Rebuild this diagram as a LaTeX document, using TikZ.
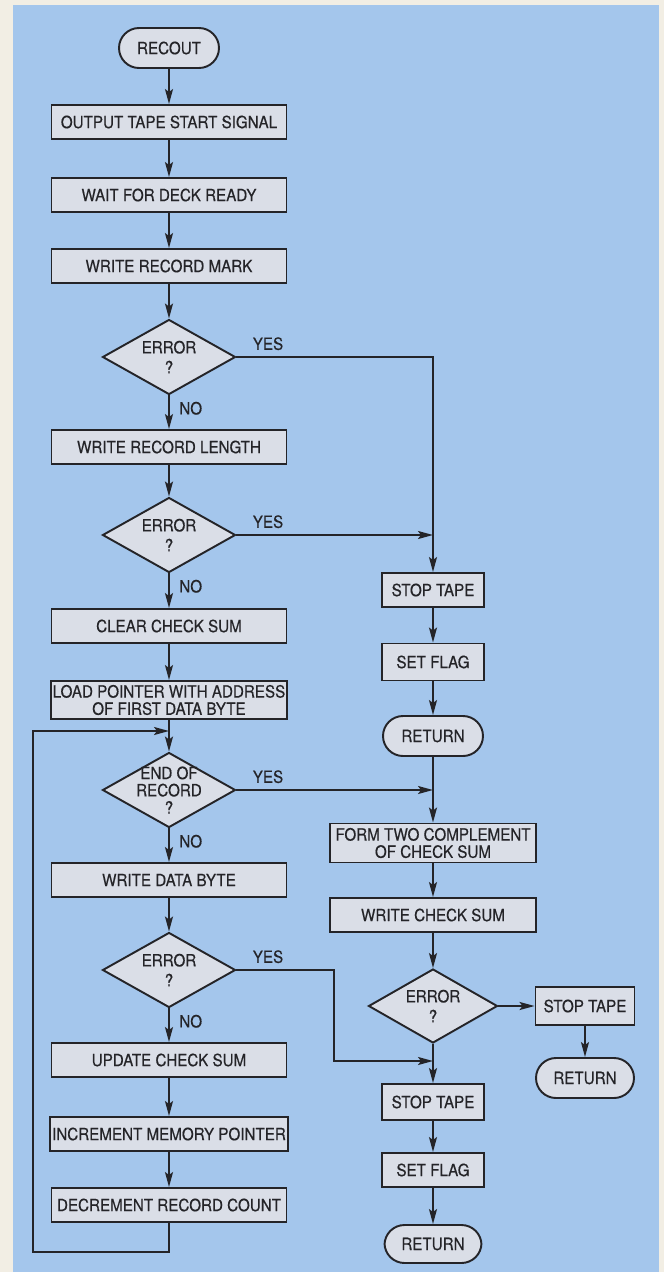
\documentclass[tikz,border=0pt]{standalone}
\usepackage{fontspec}
\setmainfont{TeX Gyre Heros}[FakeStretch=0.9, FakeBold=0.4]
\usetikzlibrary{shapes.geometric,arrows.meta}
\definecolor{paper}{RGB}{242,238,228}
\definecolor{sky}{RGB}{164,198,236}
\definecolor{boxfill}{RGB}{218,222,231}
\definecolor{ink}{RGB}{36,36,40}
\begin{document}
\begin{tikzpicture}[x=0.02cm, y=-0.02cm, >={Stealth[length=3mm,width=1.6mm,inset=0.6mm]},
	every node/.style={font=\fontsize{9.6}{9.8}\selectfont, text=ink},
	proc/.style={draw=ink, line width=1.1pt, fill=boxfill, minimum width=4.7cm, minimum height=0.68cm, inner sep=1pt, align=center},
	smallproc/.style={proc, minimum width=2.04cm},
	term/.style={proc, minimum width=2cm, minimum height=0.8cm, rounded corners=0.4cm},
	test/.style={diamond, draw=ink, line width=1.1pt, fill=boxfill, aspect=1.77, minimum width=2.66cm, minimum height=1.5cm, inner sep=-4pt, align=center},
	lbl/.style={inner sep=0pt},
	flow/.style={draw=ink, line width=1.1pt, ->}]
			% nen giay va khung xanh
			\fill[paper] (0,0) rectangle (664,1272);
			\fill[sky] (13,5) rectangle (659,1272);
			\useasboundingbox (0,0) rectangle (664,1272);
			% cot trai
			\node[term] (recout) at (169,48) {RECOUT};
			\node[proc] (start) at (169,122) {OUTPUT TAPE START SIGNAL};
			\node[proc] (wait) at (169,195) {WAIT FOR DECK READY};
			\node[proc] (mark) at (169,266) {WRITE RECORD MARK};
			\node[test] (err1) at (169,357) {ERROR\\[1.5pt]?};
			\node[proc] (len) at (169,447) {WRITE RECORD LENGTH};
			\node[test] (err2) at (169,535) {ERROR\\[1.5pt]?};
			\node[proc] (clear) at (169,626) {CLEAR CHECK SUM};
			\node[proc, minimum height=0.76cm] (load) at (169,700) {LOAD POINTER WITH ADDRESS\\OF FIRST DATA BYTE};
			\node[test] (eor) at (169,790) {END OF\\RECORD\\?};
			\node[proc] (data) at (169,880) {WRITE DATA BYTE};
			\node[test] (err3) at (169,970) {ERROR\\[1.5pt]?};
			\node[proc] (upd) at (169,1060) {UPDATE CHECK SUM};
			\node[proc] (inc) at (169,1134) {INCREMENT MEMORY POINTER};
			\node[proc] (dec) at (169,1205) {DECREMENT RECORD COUNT};
			% cot phai
			\node[smallproc] (stop1) at (433,590) {STOP TAPE};
			\node[smallproc, minimum height=0.74cm] (flag1) at (433,662) {SET FLAG};
			\node[term] (ret1) at (433,736) {RETURN};
			\node[proc, minimum width=4.12cm, minimum height=0.78cm] (form) at (433,843) {FORM TWO COMPLEMENT\\OF CHECK SUM};
			\node[proc, minimum width=4.12cm] (wsum) at (433,915) {WRITE CHECK SUM};
			\node[test, minimum width=2.58cm, minimum height=1.48cm] (err4) at (433,1006) {ERROR\\[1.5pt]?};
			\node[smallproc, minimum width=1.98cm, minimum height=0.76cm] (stop2) at (585,1006) {STOP TAPE};
			\node[term, minimum width=1.96cm] (ret2) at (585,1078) {RETURN};
			\node[smallproc, minimum height=0.72cm] (stop3) at (433,1102) {STOP TAPE};
			\node[smallproc] (flag3) at (433,1170) {SET FLAG};
			\node[term, minimum width=1.94cm, minimum height=0.76cm] (ret3) at (433,1244) {RETURN};
			% nhan YES / NO
			\foreach \d in {1,2,3} {
				\node[lbl, anchor=south west] (yes\d) at ([xshift=0.32cm, yshift=0.13cm]err\d.east) {YES};
				\node[lbl, anchor=north west] (no\d) at ([xshift=0.2cm, yshift=-0.12cm]err\d.south) {NO};
			}
			\node[lbl, anchor=south west] (yeseor) at ([xshift=0.32cm, yshift=0.13cm]eor.east) {YES};
			\node[lbl, anchor=north west] (noeor) at ([xshift=0.2cm, yshift=-0.12cm]eor.south) {NO};
			% mui ten thang
			\foreach \a/\b in {recout/start, start/wait, wait/mark, mark/err1, err1/len, len/err2, err2/clear, clear/load, load/eor, eor/data, data/err3, err3/upd, upd/inc, inc/dec, stop1/flag1, flag1/ret1, ret1/form, form/wsum, wsum/err4, err4/stop2, stop2/ret2, err4/stop3, stop3/flag3, flag3/ret3}
				\draw[flow] (\a) -- (\b);
			% nhanh YES
			\draw[flow] (err1.east) -| (stop1.north);
			\draw[flow] (err2.east) -- (err2.east -| stop1.north);
			\draw[flow] (eor.east) -- (eor.east -| form.north);
			\coordinate (bend) at (334,1061);
			\draw[flow] (err3.east) -| (bend) -- (bend -| stop3.north);
			% vong lap
			\coordinate (loopbot) at (33,1252);
			\coordinate (looptop) at (33,731);
			\coordinate (loopin) at (169,731);
			\draw[flow] (dec.south) |- (loopbot) -- (looptop) -- (loopin);
		\end{tikzpicture}
\end{document}
